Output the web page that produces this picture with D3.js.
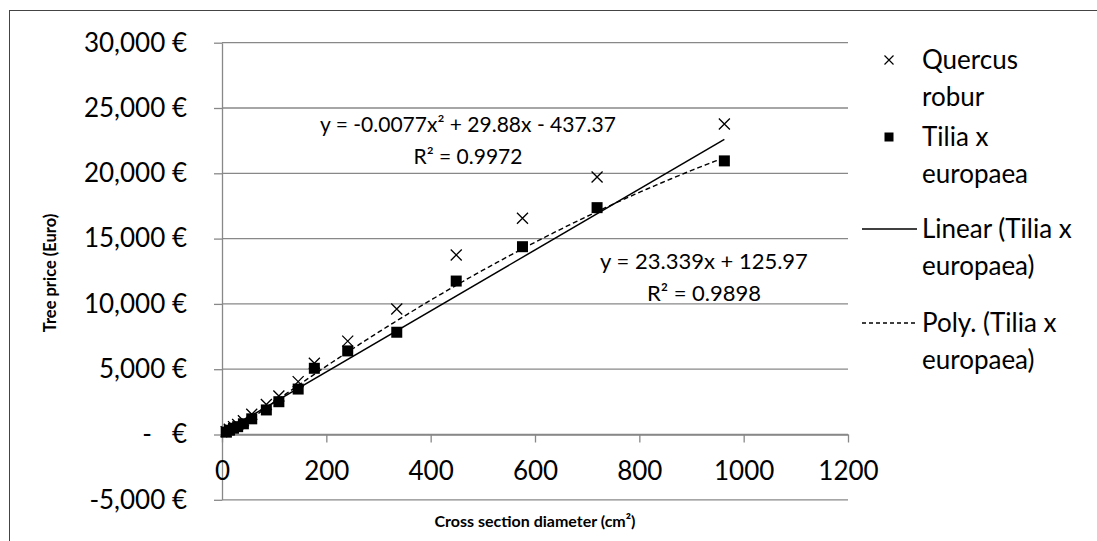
<!DOCTYPE html>
<html>
<head>
<meta charset="utf-8">
<script src="https://cdn.jsdelivr.net/npm/d3@7"></script>
<style>
  html, body { margin: 0; padding: 0; background: #fff; }
  svg { display: block; font-family: Lato, "Open Sans", sans-serif; }
</style>
</head>
<body>
<svg id="chart" width="1097" height="541"></svg>
<script>
// cross section (cm2) of the measured trees, same for both species
var diameters = [8, 14, 22, 30, 41, 57, 85, 109, 146, 177, 241, 335, 449, 576, 719, 963];
var quercusPrice = [220, 400, 600, 760, 1050, 1550, 2300, 2950, 4050, 5450, 7150, 9610, 13750, 16560, 19720, 23780];
var tiliaPrice = [180, 330, 480, 600, 820, 1200, 1880, 2510, 3480, 5070, 6400, 7830, 11750, 14380, 17370, 20950];

// trendline coefficients as printed on the chart
var linearCoef = [23.339, 125.97];            // a*x + b
var polyCoef = [-0.0077, 29.88, -437.37];     // a*x^2 + b*x + c
var linearLabel = ["y = 23.339x + 125.97", "R² = 0.9898"];
var polyLabel = ["y = -0.0077x² + 29.88x - 437.37", "R² = 0.9972"];

var xTicks = [0, 200, 400, 600, 800, 1000, 1200];
var yTicks = [-5000, 0, 5000, 10000, 15000, 20000, 25000, 30000];

var legendItems = [
  { kind: "cross", lines: ["Quercus", "robur"] },
  { kind: "square", lines: ["Tilia x", "europaea"] },
  { kind: "solid", lines: ["Linear (Tilia x", "europaea)"] },
  { kind: "dashed", lines: ["Poly. (Tilia x", "europaea)"] }
];

var svg = d3.select("#chart");
var gridColor = "#888";

var x = d3.scaleLinear().domain([0, 1200]).range([222, 848]);
var y = d3.scaleLinear().domain([-5000, 30000]).range([499.8, 42.7]);

// outer chart frame (runs off the right/bottom edge of the picture)
svg.append("rect")
  .attr("x", 9.5).attr("y", 10.5)
  .attr("width", 1100).attr("height", 540)
  .attr("fill", "none").attr("stroke", "#444").attr("stroke-width", 1);

// horizontal gridlines
svg.append("g").selectAll("line")
  .data(yTicks)
  .join("line")
  .attr("x1", x(0)).attr("x2", x(1200))
  .attr("y1", function(d) { return y(d); })
  .attr("y2", function(d) { return y(d); })
  .attr("stroke", gridColor).attr("stroke-width", 1.3);

// excel uses a plain hyphen, d3 gives a real minus sign
var thousands = d3.format(",");
function euro(d) {
  if (d === 0) return "€";
  return thousands(d).replace("−", "-") + " €";
}

var yAxis = svg.append("g")
  .attr("transform", "translate(" + x(0) + ",0)")
  .call(d3.axisLeft(y).tickValues(yTicks).tickSize(8).tickSizeOuter(0).tickPadding(27)
    .tickFormat(euro));

// accounting style zero: "-   €"
yAxis.selectAll(".tick").filter(function(d) { return d === 0; })
  .append("text")
  .attr("x", -75).attr("dy", "0.32em")
  .attr("text-anchor", "middle")
  .attr("fill", "#000")
  .text("-");

var xAxis = svg.append("g")
  .attr("transform", "translate(0," + y(0) + ")")
  .call(d3.axisBottom(x).tickValues(xTicks).tickSize(8).tickSizeOuter(0).tickPadding(19)
    .tickFormat(d3.format("d")));

[yAxis, xAxis].forEach(function(ax) {
  ax.select(".domain").attr("stroke", gridColor).attr("stroke-width", 1.3);
  ax.selectAll(".tick line").attr("stroke", gridColor).attr("stroke-width", 1.3);
  ax.selectAll("text").attr("font-size", 26).attr("font-family", "Lato").attr("fill", "#000");
});

// trendlines
var xMin = d3.min(diameters), xMax = d3.max(diameters);
var line = d3.line()
  .x(function(d) { return x(d[0]); })
  .y(function(d) { return y(d[1]); });

var linearPts = [xMin, xMax].map(function(v) {
  return [v, linearCoef[0] * v + linearCoef[1]];
});
var polyPts = d3.range(xMin, xMax, 4).concat([xMax]).map(function(v) {
  return [v, polyCoef[0] * v * v + polyCoef[1] * v + polyCoef[2]];
});

svg.append("path").attr("d", line(linearPts))
  .attr("fill", "none").attr("stroke", "#000").attr("stroke-width", 1.5);
svg.append("path").attr("d", line(polyPts))
  .attr("fill", "none").attr("stroke", "#000").attr("stroke-width", 1.4)
  .attr("stroke-dasharray", "5,3");

// markers
var crossPath = "M-5.5,-5.5L5.5,5.5M-5.5,5.5L5.5,-5.5";
svg.append("g").selectAll("path")
  .data(diameters)
  .join("path")
  .attr("transform", function(d, i) { return "translate(" + x(d) + "," + y(quercusPrice[i]) + ")"; })
  .attr("d", crossPath)
  .attr("stroke", "#000").attr("stroke-width", 1.3).attr("fill", "none");

svg.append("g").selectAll("rect")
  .data(diameters)
  .join("rect")
  .attr("x", function(d) { return x(d) - 5.5; })
  .attr("y", function(d, i) { return y(tiliaPrice[i]) - 5.5; })
  .attr("width", 11).attr("height", 11)
  .attr("fill", "#000");

// trendline labels
function eqLabel(lines, cx, y0, size) {
  var t = svg.append("text")
    .attr("text-anchor", "middle")
    .attr("font-size", size);
  lines.forEach(function(s, i) {
    t.append("tspan").attr("x", cx).attr("y", y0 + i * 32).text(s);
  });
}
eqLabel(polyLabel, 468, 132, 21);
eqLabel(linearLabel, 704, 269, 22);

// axis titles
svg.append("text")
  .attr("x", x(600)).attr("y", 527)
  .attr("text-anchor", "middle")
  .attr("font-weight", "bold").attr("font-size", 16)
  .text("Cross section diameter (cm²)");

svg.append("text")
  .attr("transform", "translate(56,273) rotate(-90)")
  .attr("text-anchor", "middle")
  .attr("font-weight", "bold").attr("font-size", 16.5)
  .text("Tree price (Euro)");

// legend
var legendTop = [60, 137, 229, 323];
var lg = svg.append("g");
legendItems.forEach(function(item, i) {
  var cy = legendTop[i];
  var g = lg.append("g");
  if (item.kind === "cross") {
    g.append("path").attr("transform", "translate(889," + cy + ")")
      .attr("d", "M-4.5,-4.5L4.5,4.5M-4.5,4.5L4.5,-4.5")
      .attr("stroke", "#000").attr("stroke-width", 1.2);
  } else if (item.kind === "square") {
    g.append("rect").attr("x", 884.5).attr("y", cy - 4.5)
      .attr("width", 9).attr("height", 9).attr("fill", "#000");
  } else {
    g.append("line").attr("x1", 862).attr("x2", 917)
      .attr("y1", cy).attr("y2", cy)
      .attr("stroke", "#000").attr("stroke-width", 1.3)
      .attr("stroke-dasharray", item.kind === "dashed" ? "4,3" : null);
  }
  var t = g.append("text").attr("font-size", 26);
  item.lines.forEach(function(s, j) {
    t.append("tspan").attr("x", 922).attr("y", cy + 9 + j * 37).text(s);
  });
});
</script>
</body>
</html>
